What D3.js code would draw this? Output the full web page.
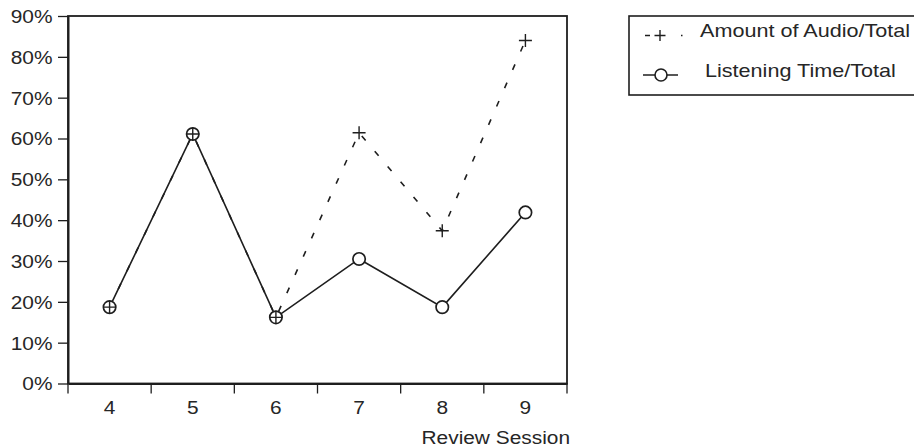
<!DOCTYPE html>
<html>
<head>
<meta charset="utf-8">
<script src="https://cdn.jsdelivr.net/npm/d3@7"></script>
<style>
  html, body { margin: 0; padding: 0; background: #fff; }
  svg { display: block; font-family: "Liberation Sans", Arial, Helvetica, sans-serif; }
</style>
</head>
<body>
<svg id="chart" width="914" height="447"></svg>
<script>
const categories = ["4", "5", "6", "7", "8", "9"];
const audioTotal = [0.187, 0.611, 0.162, 0.614, 0.374, 0.840];
const listeningTotal = [0.187, 0.611, 0.162, 0.305, 0.187, 0.419];
const yTicks = [0, 0.1, 0.2, 0.3, 0.4, 0.5, 0.6, 0.7, 0.8, 0.9];
const seriesNames = ["Amount of Audio/Total", "Listening Time/Total"];
const xTitle = "Review Session";

const ink = "#1e1e1e";
const textInk = "#262626";
const fontSize = 18;
const stretch = 1.16;
const legStretch = 1.2;

const svg = d3.select("#chart");
const L = 68, R = 567, T = 16, B = 383.5;

const x = d3.scaleBand().domain(categories).range([L, R]).padding(0);
const y = d3.scaleLinear().domain([0, 0.9]).range([B, T]);
const cx = d => x(d) + x.bandwidth() / 2;

// Frame (top & right)
svg.append("rect")
  .attr("x", L).attr("y", T).attr("width", R - L).attr("height", B - T)
  .attr("fill", "none").attr("stroke", ink).attr("stroke-width", 1.8);

// Y axis
const yAxis = svg.append("g")
  .attr("transform", `translate(${L},0)`)
  .call(d3.axisLeft(y).tickValues(yTicks).tickFormat(d3.format(".0%")).tickSize(10).tickSizeOuter(0));
yAxis.select(".domain").attr("stroke", ink).attr("stroke-width", 2);
yAxis.selectAll(".tick line").attr("stroke", ink).attr("stroke-width", 1.3);
yAxis.selectAll(".tick text")
  .attr("x", 0).attr("dy", "0.36em")
  .attr("transform", `translate(-15.5,0) scale(${stretch},1)`)
  .attr("font-size", fontSize).attr("font-family", null).attr("fill", textInk);

// X axis (labels at centers)
const xAxis = svg.append("g")
  .attr("transform", `translate(0,${B})`)
  .call(d3.axisBottom(x).tickSize(0).tickPadding(18).tickSizeOuter(0));
xAxis.select(".domain").attr("stroke", ink).attr("stroke-width", 2);
xAxis.selectAll(".tick text")
  .attr("transform", `scale(${stretch},1)`)
  .attr("font-size", fontSize).attr("font-family", null).attr("fill", textInk);

// X tick marks at band boundaries
const bounds = categories.map(d => x(d)).concat([x(categories[categories.length - 1]) + x.bandwidth()]);
svg.append("g").selectAll("line").data(bounds).join("line")
  .attr("x1", d => d).attr("x2", d => d)
  .attr("y1", B).attr("y2", B + 10)
  .attr("stroke", ink).attr("stroke-width", 1.3);

// X title
svg.append("text")
  .attr("transform", `translate(570,443.5) scale(${stretch},1)`)
  .attr("text-anchor", "end")
  .attr("font-size", fontSize).attr("fill", textInk)
  .text(xTitle);

// Lines
const line = d3.line().x((d, i) => cx(categories[i])).y(d => y(d));
svg.append("path").datum(audioTotal)
  .attr("d", line).attr("fill", "none")
  .attr("stroke", ink).attr("stroke-width", 1.6).attr("stroke-dasharray", "6,14");
svg.append("path").datum(listeningTotal)
  .attr("d", line).attr("fill", "none")
  .attr("stroke", ink).attr("stroke-width", 1.6);

// Circle markers
svg.append("g").selectAll("circle").data(listeningTotal).join("circle")
  .attr("cx", (d, i) => cx(categories[i])).attr("cy", d => y(d)).attr("r", 6.2)
  .attr("fill", "#fff").attr("stroke", ink).attr("stroke-width", 1.7);

// Plus markers
const plusPath = (px, py, s) => `M${px - s},${py}H${px + s}M${px},${py - s}V${py + s}`;
svg.append("g").selectAll("path").data(audioTotal).join("path")
  .attr("d", (d, i) => plusPath(cx(categories[i]), y(d), 6.5))
  .attr("stroke", ink).attr("stroke-width", 1.4).attr("fill", "none");

// Legend
const lg = svg.append("g");
lg.append("rect").attr("x", 629).attr("y", 16).attr("width", 320).attr("height", 79)
  .attr("fill", "none").attr("stroke", ink).attr("stroke-width", 1.6);
// series 1 symbol
lg.append("line").attr("x1", 645).attr("x2", 650).attr("y1", 35.5).attr("y2", 35.5)
  .attr("stroke", ink).attr("stroke-width", 1.5);
lg.append("path").attr("d", plusPath(660, 35.5, 5.5)).attr("stroke", ink).attr("stroke-width", 1.4);
lg.append("line").attr("x1", 681).attr("x2", 682.5).attr("y1", 35.5).attr("y2", 35.5)
  .attr("stroke", ink).attr("stroke-width", 1.3);
// series 2 symbol
lg.append("line").attr("x1", 643).attr("x2", 678).attr("y1", 75).attr("y2", 75)
  .attr("stroke", ink).attr("stroke-width", 1.5);
lg.append("circle").attr("cx", 661).attr("cy", 75).attr("r", 6)
  .attr("fill", "#fff").attr("stroke", ink).attr("stroke-width", 1.6);
lg.selectAll("text.lab").data(seriesNames).join("text")
  .attr("class", "lab")
  .attr("transform", (d, i) => `translate(${i === 0 ? 700 : 705},${i === 0 ? 37.3 : 76.7}) scale(${legStretch},1)`)
  .attr("font-size", fontSize).attr("fill", textInk)
  .text(d => d);
</script>
</body>
</html>
